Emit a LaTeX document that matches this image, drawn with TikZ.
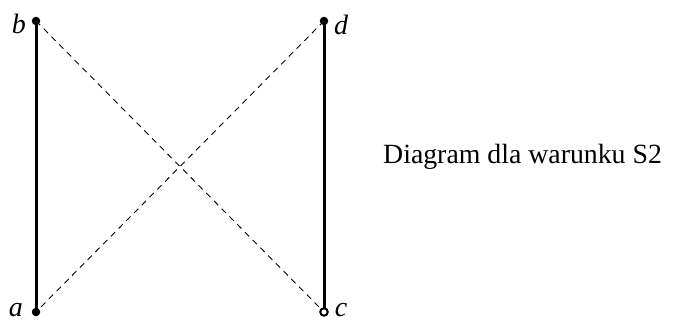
\documentclass[tikz,border=0pt]{standalone}
\usepackage{fontspec}
\setmainfont{Liberation Serif}
\begin{document}
\begin{tikzpicture}[x=1pt,y=-1pt,
  dotf/.style={circle,fill=black,inner sep=0pt,minimum size=8.5pt},
  doto/.style={circle,draw=black,line width=2pt,fill=white,inner sep=0pt,minimum size=7.5pt},
  solidedge/.style={line width=3pt},
  dashededge/.style={line width=0.9pt,dash pattern=on 6pt off 5pt},
  lbl/.style={font=\fontsize{28}{30}\selectfont\itshape,inner sep=0pt}]
\useasboundingbox (0,0) rectangle (687,323);
\coordinate (b) at (36,21);
\coordinate (d) at (324,21);
\coordinate (a) at (36,312);
\coordinate (c) at (324,312);
\draw[solidedge] (b) -- (a);
\draw[solidedge] (d) -- (c);
\draw[dashededge] (b) -- (c);
\draw[dashededge] (d) -- (a);
\node[dotf] (nb) at (b) {};
\node[dotf] (nd) at (d) {};
\node[dotf] (na) at (a) {};
\node[doto] (nc) at (c) {};
\node[lbl] (lb) at (19,24) {b};
\node[lbl] (ld) at (341,25) {d};
\node[lbl,anchor=base] (la) at (16,316) {a};
\node[lbl,anchor=base] (lc) at (341,316) {c};
\node[font=\fontsize{27.8}{30}\selectfont,anchor=base west,inner sep=0pt] (cap) at (383,164) {Diagram dla warunku S2};
\end{tikzpicture}
\end{document}
